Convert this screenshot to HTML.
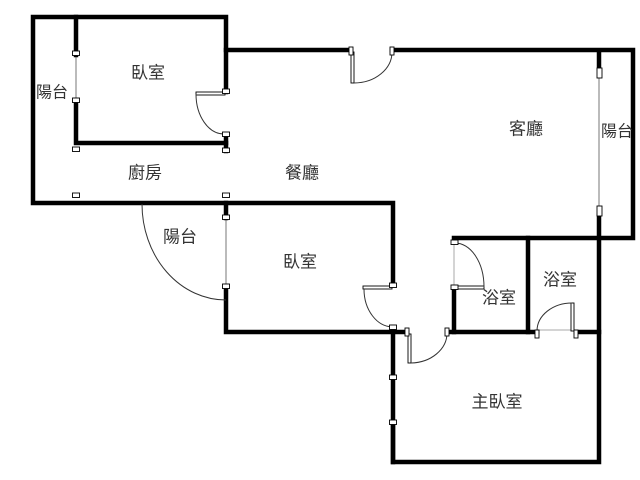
<!DOCTYPE html>
<html><head><meta charset="utf-8"><style>
html,body{margin:0;padding:0;background:#fff;}
svg{display:block;}
text{font-family:"Liberation Sans","Noto Sans CJK TC","Noto Sans CJK SC",sans-serif;font-size:17px;fill:#333;}
text.s{font-size:16px;}
</style></head><body>
<svg width="640" height="480" viewBox="0 0 640 480" xmlns="http://www.w3.org/2000/svg">
<rect width="640" height="480" fill="#fff"/>
<!-- thin windows -->
<g stroke="#777" stroke-width="1" fill="none">
<line x1="76" y1="55" x2="76" y2="100"/>
<line x1="599" y1="73" x2="599" y2="211"/>
<line x1="226" y1="218" x2="226" y2="286"/>
<line x1="393" y1="377" x2="393" y2="422"/>
<line x1="454" y1="243" x2="454" y2="287" stroke="#aaa"/>
<line x1="537" y1="330" x2="573" y2="330" stroke="#aaa"/>
</g>
<!-- walls -->
<g stroke="#000" stroke-width="4.5" fill="none" stroke-linecap="square">
<path d="M226,92 V17 H33 V203 H393 V285"/>
<path d="M76,17 V55"/>
<path d="M76,100 V143 H226"/>
<path d="M226,135 V151"/>
<path d="M226,50 H351"/>
<path d="M392,50 H633 V238 H454"/>
<path d="M599,51 V68"/>
<path d="M599,216 V462 H393 V377"/>
<path d="M393,422 V462"/>
<path d="M393,327 V377"/>
<path d="M226,203 V218"/>
<path d="M226,286 V332 H405"/>
<path d="M454,287 V332"/>
<path d="M448,332 H537"/>
<path d="M576,332 H599"/>
<path d="M528,238 V332"/>
</g>
<!-- door leaves -->
<g stroke="#000" stroke-width="0.9" fill="#fff">
<rect x="351" y="52" width="3" height="31"/>
<rect x="196" y="92" width="29" height="3"/>
<rect x="363" y="286" width="29" height="3"/>
<rect x="455" y="286" width="29" height="3"/>
<rect x="571" y="303" width="3" height="28"/>
<rect x="408" y="334" width="3" height="29"/>
</g>
<!-- arcs -->
<g stroke="#333" stroke-width="1" fill="none">
<path d="M354,83 A38 31 0 0 0 392,52"/>
<path d="M196,94 A28 40 0 0 0 224,134"/>
<path d="M364,289 A29 38 0 0 0 393,327"/>
<path d="M484,287 A29 44 0 0 0 455,243"/>
<path d="M572,303 A35 28 0 0 0 537,331"/>
<path d="M411,363 A37 30 0 0 0 447,333"/>
<path d="M142,204 A84 96 0 0 0 226,300"/>
</g>
<!-- jamb markers -->
<g stroke="#000" stroke-width="0.9" fill="#fff">
<rect x="72.5" y="51" width="7" height="4.5"/>
<rect x="72.5" y="98" width="7" height="4.5"/>
<rect x="72.5" y="147" width="7" height="4.5"/>
<rect x="72.5" y="193" width="7" height="4.5"/>
<rect x="222.5" y="89" width="7" height="4.5"/>
<rect x="222.5" y="132" width="7" height="4.5"/>
<rect x="222.5" y="148" width="7" height="4.5"/>
<rect x="222.5" y="193" width="7" height="4.5"/>
<rect x="222.5" y="215" width="7" height="4.5"/>
<rect x="222.5" y="284" width="7" height="4.5"/>
<rect x="349" y="47" width="4" height="8"/>
<rect x="390" y="47" width="4" height="8"/>
<rect x="597" y="68" width="5" height="10"/>
<rect x="597" y="206" width="5" height="10"/>
<rect x="389.5" y="283" width="7" height="4.5"/>
<rect x="389.5" y="325" width="7" height="4.5"/>
<rect x="389.5" y="375" width="7" height="4.5"/>
<rect x="389.5" y="420" width="7" height="4.5"/>
<rect x="405" y="328" width="4" height="8"/>
<rect x="445" y="328" width="4" height="8"/>
<rect x="451" y="240" width="7" height="4.5"/>
<rect x="451" y="285" width="7" height="4.5"/>
<rect x="535" y="330" width="4" height="8"/>
<rect x="574" y="330" width="4" height="8"/>
</g>
<!-- labels -->
<g text-anchor="middle" dominant-baseline="central">
<text x="148" y="73">臥室</text>
<text class="s" x="52" y="93">陽台</text>
<text x="145" y="173">廚房</text>
<text x="302" y="173">餐廳</text>
<text x="526" y="129">客廳</text>
<text class="s" x="617" y="132">陽台</text>
<text x="180" y="237">陽台</text>
<text x="300" y="262">臥室</text>
<text x="499" y="298">浴室</text>
<text x="560" y="280">浴室</text>
<text x="497" y="402">主臥室</text>
</g>
</svg>
</body></html>
